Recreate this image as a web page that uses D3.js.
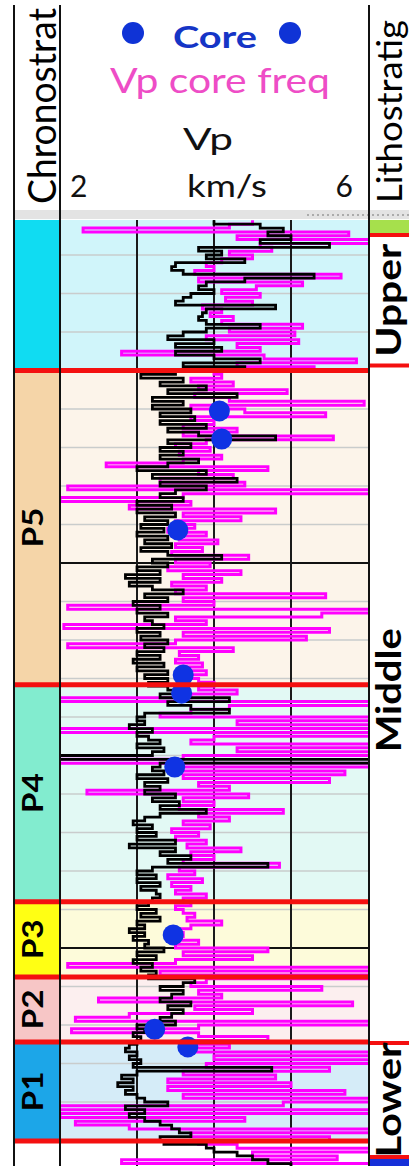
<!DOCTYPE html>
<html>
<head>
<meta charset="utf-8">
<script src="https://cdn.jsdelivr.net/npm/d3@7"></script>
<style>
  body { margin: 0; background: #fff; }
  svg { display: block; font-family: Lato, "Open Sans", sans-serif; }
</style>
</head>
<body>
<script>
// samples every 1 m starting at 3011 m
const depthTop = 3011;
const depthStep = 1;

// Vp log (km/s)
const vpLog = [
  4.0, 4.6, 4.9, 4.7, 5.0, 4.6, 5.5, 3.8, 4.1, 3.9,
  4.4, 3.5, 3.45, 3.6, 5.3, 4.4, 3.9, 3.8, 4.0, 3.7,
  3.6, 3.5, 4.8, 3.9, 3.85, 3.8, 3.9, 4.6, 3.9, 3.6,
  3.4, 4.0, 3.5, 4.1, 3.5, 4.0, 4.6, 3.6, 4.4, 3.5,
  3.05, 3.6, 3.3, 3.9, 3.4, 4.3, 3.2, 3.6, 3.2, 3.7,
  3.3, 3.75, 3.3, 3.9, 3.4, 3.8, 4.8, 3.4, 3.7, 3.3,
  3.6, 3.3, 3.8, 3.4, 3.0, 3.9, 3.2, 4.3, 3.3, 3.9,
  3.5, 3.3, 3.6, 3.0, 3.45, 3.0, 3.5, 3.1, 3.4, 3.05,
  3.35, 3.0, 3.4, 3.1, 3.45, 3.05, 3.4, 4.1, 3.2, 3.4,
  3.0, 3.3, 2.85, 3.3, 2.9, 3.2, 3.6, 3.1, 3.4, 2.95,
  3.3, 3.0, 3.4, 3.1, 3.2, 3.35, 3.0, 3.3, 3.05, 3.4,
  3.1, 3.35, 3.0, 3.3, 2.95, 3.35, 3.0, 3.4, 3.1, 3.4,
  3.15, 3.4, 3.6, 3.3, 4.2, 3.4, 3.7, 4.2, 3.1, 3.0,
  3.1, 2.9, 3.2, 3.0, 3.15, 3.3, 3.0, 3.35, 3.2, 1.9,
  6.3, 3.3, 3.2, 3.35, 3.0, 3.4, 3.1, 3.3, 3.1, 3.5,
  3.2, 3.55, 3.3, 3.9, 3.3, 3.1, 2.95, 3.2, 3.0, 3.25,
  3.0, 3.5, 2.9, 3.5, 3.3, 3.7, 3.4, 4.7, 3.2, 3.0,
  3.25, 3.0, 3.3, 3.05, 3.25, 3.3, 3.2, 3.15, 3.0, 3.25,
  3.05, 3.3, 3.0, 3.1, 2.9, 3.1, 2.95, 3.15, 3.1, 3.35,
  3.0, 3.25, 2.95, 3.2, 3.05, 3.25, 3.15, 3.75, 3.6, 3.3,
  3.6, 3.45, 3.3, 3.7, 3.4, 3.6, 3.45, 3.3, 3.5, 3.0,
  3.1, 2.95, 3.05, 3.0, 2.9, 2.85, 3.0, 2.9, 3.05, 2.95,
  4.75, 3.0, 2.8, 2.95, 2.75, 2.95, 2.85, 3.0, 3.1, 3.4,
  2.85, 3.1, 2.9, 3.1, 3.3, 3.45, 3.55, 3.7, 3.3, 3.35,
  3.9, 4.0, 4.3, 4.5, 4.7, 5.0, 5.2
];

// Vp core freq (km/s)
const vpCoreFreq = [
  4.5, 4.2, 2.3, 5.75, 4.3, 6.3, 4.6, 4.75, 4.2, 4.5,
  4.1, 3.9, 4.0, 3.75, 5.65, 3.8, 5.15, 4.55, 4.1, 4.6,
  4.15, 4.5, 3.85, 4.1, 3.95, 4.25, 4.1, 5.15, 4.2, 5.05,
  3.9, 5.1, 4.3, 4.6, 2.8, 4.65, 5.85, 4.3, 5.3, 4.0,
  4.1, 3.7, 4.25, 3.8, 4.95, 3.75, 4.2, 5.95, 3.7, 4.4,
  5.45, 3.7, 4.0, 3.6, 4.3, 3.6, 5.55, 3.9, 3.5, 3.95,
  3.55, 4.1, 3.6, 2.6, 4.7, 3.8, 4.25, 3.3, 4.4, 2.1,
  6.2, 3.6, 2.0, 3.7, 2.9, 4.8, 3.6, 4.35, 3.5, 3.75,
  3.4, 3.9, 3.55, 4.05, 3.5, 3.85, 3.45, 4.45, 3.5, 3.95,
  3.4, 4.35, 3.6, 4.1, 3.45, 3.9, 3.5, 5.45, 3.6, 4.0,
  2.1, 6.2, 5.4, 3.5, 3.9, 2.05, 5.5, 3.6, 5.2, 3.5,
  2.1, 4.25, 3.55, 3.8, 3.5, 3.85, 3.6, 3.9, 3.5, 3.8,
  4.0, 3.8, 4.3, 3.7, 1.9, 6.2, 4.2, 3.7, 3.3, 6.2,
  4.3, 6.2, 1.9, 6.2, 4.0, 3.7, 6.2, 4.3, 6.2, 3.6,
  1.9, 6.2, 3.55, 5.7, 3.6, 5.5, 3.8, 4.2, 2.35, 4.45,
  3.6, 4.0, 3.55, 4.9, 3.8, 4.2, 3.6, 3.95, 3.45, 3.8,
  3.5, 3.9, 3.65, 4.35, 3.7, 4.0, 3.6, 4.85, 3.55, 3.75,
  3.4, 3.85, 3.45, 3.7, 3.5, 3.9, 3.6, 3.7, 3.5, 3.6,
  3.75, 3.65, 4.1, 3.7, 3.55, 3.6, 3.45, 3.8, 3.5, 4.7,
  3.6, 4.5, 3.5, 2.1, 6.2, 3.3, 6.2, 3.9, 3.7, 5.4,
  3.8, 4.1, 2.5, 5.8, 3.75, 4.5, 2.9, 2.2, 6.2, 3.8,
  2.15, 3.8, 4.7, 3.6, 4.2, 3.7, 6.2, 4.0, 6.2, 3.9,
  5.5, 3.6, 4.8, 3.4, 5.0, 3.4, 5.7, 3.6, 6.2, 4.9,
  1.9, 6.2, 2.0, 4.4, 2.2, 2.9, 6.2, 3.7, 5.5, 3.8,
  4.3, 6.2, 4.5, 5.6, 2.8, 6.2, 4.8
];

// core plugs
const coreDepth = [3060.5, 3067.8, 3091.4, 3129.1, 3133.8, 3153.0, 3196.6, 3221.1, 3225.7];
const coreVp = [4.07, 4.1, 3.53, 3.6, 3.58, 3.49, 3.47, 3.23, 3.66];

// chronostratigraphy
const chronoNames = ["", "P5", "P4", "P3", "P2", "P1"];
const chronoTops = [3010.9, 3050, 3131.6, 3188, 3207.5, 3224.4];
const chronoBase = 3250.1;
const chronoColors = ["#10dcf2", "#f5d5a8", "#82eccf", "#ffff14", "#f7c6c6", "#1ca6e8"];
const trackColors = ["#d0f5fa", "#fcf4ea", "#e2f9f4", "#fdfbda", "#fcefef", "#d5ecf8"];

// lithostratigraphy
const lithoNames = ["", "Upper", "Middle", "Lower", ""];
const lithoTops = [3010.9, 3014.8, 3048.7, 3224.7, 3254.3];
const lithoBase = 3257;
const lithoColors = ["#a6e04c", "#ffffff", "#ffffff", "#ffffff", "#1630d8"];

const vpTicks = [2, 3, 4, 5, 6];

const W = 409, H = 1166;
const trackTop = 220;

const x = d3.scaleLinear().domain([2, 6]).range([60, 368]);
const y = d3.scaleLinear().domain([3100, 3200]).range([563, 948]);

const svg = d3.select("body").append("svg")
  .attr("width", W)
  .attr("height", H);

// clip for curves
svg.append("clipPath").attr("id", "trk")
  .append("rect")
  .attr("x", 60).attr("y", trackTop)
  .attr("width", 308).attr("height", H - trackTop);

// zone fills
const zones = chronoTops.map((t, i) => ({
  name: chronoNames[i],
  top: t,
  base: i < chronoTops.length - 1 ? chronoTops[i + 1] : chronoBase,
  color: chronoColors[i],
  fill: trackColors[i]
}));

svg.selectAll("rect.trk")
  .data(zones)
  .enter()
  .append("rect")
  .attr("x", 61)
  .attr("y", d => y(d.top))
  .attr("width", 307)
  .attr("height", d => y(d.base) - y(d.top))
  .attr("fill", d => d.fill);

svg.selectAll("rect.chrono")
  .data(zones)
  .enter()
  .append("rect")
  .attr("x", 14)
  .attr("y", d => y(d.top))
  .attr("width", 46)
  .attr("height", d => y(d.base) - y(d.top))
  .attr("fill", d => d.color);

// litho column
const litho = lithoTops.map((t, i) => ({
  name: lithoNames[i],
  top: t,
  base: i < lithoTops.length - 1 ? lithoTops[i + 1] : lithoBase,
  color: lithoColors[i]
}));

svg.selectAll("rect.litho")
  .data(litho)
  .enter()
  .append("rect")
  .attr("x", 369)
  .attr("y", d => y(d.top))
  .attr("width", W - 369)
  .attr("height", d => y(d.base) - y(d.top))
  .attr("fill", d => d.color);

// depth grid
const depthGrid = d3.range(3020, 3260, 10);
svg.selectAll("line.minor")
  .data(depthGrid.filter(d => d % 100 !== 0))
  .enter()
  .append("line")
  .attr("x1", 61).attr("x2", 368)
  .attr("y1", d => y(d)).attr("y2", d => y(d))
  .attr("stroke", "#c9cccc")
  .attr("stroke-width", 1.5);

svg.selectAll("line.major")
  .data(depthGrid.filter(d => d % 100 === 0))
  .enter()
  .append("line")
  .attr("x1", 60).attr("x2", 368)
  .attr("y1", d => y(d)).attr("y2", d => y(d))
  .attr("stroke", "#111")
  .attr("stroke-width", 2);

svg.selectAll("line.vgrid")
  .data(vpTicks.slice(1, -1))
  .enter()
  .append("line")
  .attr("x1", d => x(d)).attr("x2", d => x(d))
  .attr("y1", trackTop).attr("y2", H)
  .attr("stroke", "#1a1a1a")
  .attr("stroke-width", 2);

// curves
const curve = () => d3.line()
  .x(d => x(d))
  .y((d, i) => y(depthTop + i * depthStep))
  .curve(d3.curveStepBefore);

const curves = svg.append("g").attr("clip-path", "url(#trk)");

curves.append("path")
  .datum(vpCoreFreq)
  .attr("d", curve())
  .attr("fill", "none")
  .attr("stroke", "#ff00ff")
  .attr("stroke-width", 3);

curves.append("path")
  .datum(vpLog)
  .attr("d", curve())
  .attr("fill", "none")
  .attr("stroke", "#000")
  .attr("stroke-width", 2.8);

// core points
svg.selectAll("circle.core")
  .data(coreDepth)
  .enter()
  .append("circle")
  .attr("cx", (d, i) => x(coreVp[i]))
  .attr("cy", d => y(d))
  .attr("r", 10.5)
  .attr("fill", "#0f33e3");

// boundaries
svg.selectAll("line.chronoB")
  .data(chronoTops.slice(1).concat([chronoBase]))
  .enter()
  .append("line")
  .attr("x1", 13).attr("x2", 368)
  .attr("y1", d => y(d)).attr("y2", d => y(d))
  .attr("stroke", "#f41010")
  .attr("stroke-width", 5);

svg.selectAll("line.lithoB")
  .data(lithoTops.slice(1))
  .enter()
  .append("line")
  .attr("x1", 368).attr("x2", W)
  .attr("y1", d => y(d)).attr("y2", d => y(d))
  .attr("stroke", "#f41010")
  .attr("stroke-width", 4);

// header separator
svg.append("rect")
  .attr("x", 13).attr("y", 210)
  .attr("width", W - 13).attr("height", 9)
  .attr("fill", "#e3e3e3");
svg.append("line")
  .attr("x1", 307).attr("x2", W)
  .attr("y1", 215).attr("y2", 215)
  .attr("stroke", "#999")
  .attr("stroke-width", 1.5)
  .attr("stroke-dasharray", "2,3");

// column borders
[14, 60, 369].forEach(bx => {
  svg.append("line")
    .attr("x1", bx).attr("x2", bx)
    .attr("y1", 5).attr("y2", H)
    .attr("stroke", "#111")
    .attr("stroke-width", 2);
});

// vertical labels
function vText(px, py, txt, size, weight, len, anchor) {
  svg.append("text")
    .attr("transform", "translate(" + px + "," + py + ") rotate(-90)")
    .attr("text-anchor", anchor)
    .attr("font-size", size)
    .attr("font-weight", weight)
    .attr("textLength", len)
    .attr("lengthAdjust", "spacingAndGlyphs")
    .attr("fill", "#000")
    .text(txt);
}

zones.filter(d => d.name).forEach(d => {
  vText(43, (y(d.top) + y(d.base)) / 2, d.name, 28, "bold", 40, "middle");
});

const lithoLen = { Upper: 113, Middle: 124, Lower: 115 };
litho.filter(d => d.name).forEach(d => {
  const mid = (y(d.top) + y(d.base)) / 2;
  // Middle label sits a little above its zone centre in the original
  vText(401, d.name === "Middle" ? mid - 14 : mid, d.name, 34, "bold", lithoLen[d.name], "middle");
});

vText(56, 204, "Chronostrat", 38, "normal", 196, "start");
vText(402, 203, "Lithostratig", 35, "normal", 183, "start");

// header: legend
svg.selectAll("circle.leg")
  .data([133, 290])
  .enter()
  .append("circle")
  .attr("cx", d => d)
  .attr("cy", 33)
  .attr("r", 11)
  .attr("fill", "#0f33d6");

svg.append("text")
  .attr("x", 215).attr("y", 48)
  .attr("text-anchor", "middle")
  .attr("font-size", 30).attr("font-weight", "bold")
  .attr("textLength", 84).attr("lengthAdjust", "spacingAndGlyphs")
  .attr("fill", "#1535c6")
  .text("Core");

svg.append("text")
  .attr("x", 220).attr("y", 93)
  .attr("text-anchor", "middle")
  .attr("font-size", 35)
  .attr("textLength", 220).attr("lengthAdjust", "spacingAndGlyphs")
  .attr("fill", "#ee4dc6")
  .text("Vp core freq");

svg.append("text")
  .attr("x", 208).attr("y", 150)
  .attr("text-anchor", "middle")
  .attr("font-size", 31)
  .attr("textLength", 50).attr("lengthAdjust", "spacingAndGlyphs")
  .attr("fill", "#111")
  .text("Vp");

// scale labels
const ends = [vpTicks[0], vpTicks[vpTicks.length - 1]];
svg.selectAll("text.scale")
  .data(ends)
  .enter()
  .append("text")
  .attr("x", (d, i) => i === 0 ? x(d) + 10 : x(d) - 15)
  .attr("y", 197)
  .attr("text-anchor", (d, i) => i === 0 ? "start" : "end")
  .attr("font-size", 30)
  .attr("fill", "#111")
  .text(d => d);

svg.append("text")
  .attr("x", 227).attr("y", 197)
  .attr("text-anchor", "middle")
  .attr("font-size", 30)
  .attr("textLength", 80).attr("lengthAdjust", "spacingAndGlyphs")
  .attr("fill", "#111")
  .text("km/s");
</script>
</body>
</html>
